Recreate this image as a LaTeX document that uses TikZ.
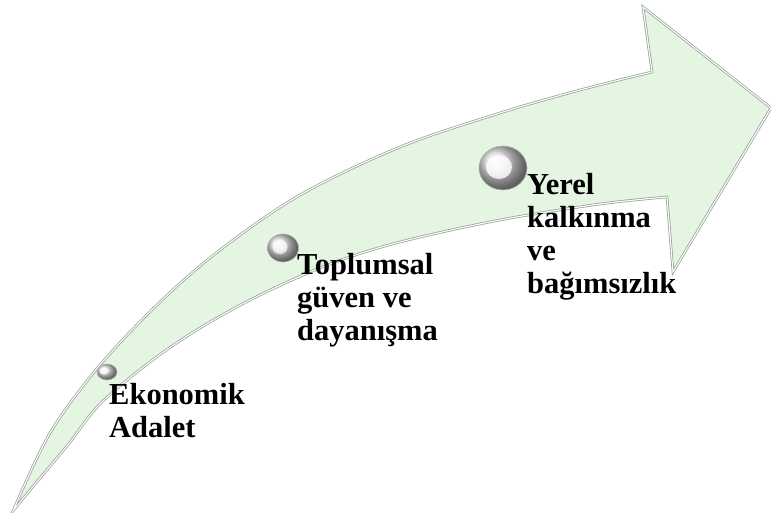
\documentclass[tikz,border=0pt]{standalone}
\usepackage{fontspec}
\setmainfont{Liberation Serif}
\usetikzlibrary{shapes.geometric}
\definecolor{mint}{RGB}{228,245,226}
\definecolor{rimgray}{RGB}{150,160,150}
\tikzset{
  label text/.style={anchor=north west, inner sep=0pt, align=left,
    font=\fontsize{30.5}{33}\selectfont\bfseries, text=black},
  sphere/.style={ellipse, inner sep=0pt, shading=ball, ball color=white!70!gray,
    draw=gray!60, line width=0.6pt},
  glint/.style={ellipse, fill=white, inner sep=0pt},
  arrowbody/.style={fill=mint,
    postaction={draw=rimgray, line width=2.6pt, line join=miter},
    postaction={draw=white, line width=1.1pt, line join=miter}}
}
\begin{document}
\begin{tikzpicture}[x=1pt, y=-1pt]
\useasboundingbox (0,0) rectangle (771,513);
% curved arrow
\path[arrowbody]
  plot[smooth, tension=0.55] coordinates {(13,511) (50,433) (100,365) (160,302) (220,250) (300,195) (400,147) (500,113) (580,90) (652,72)}
  -- (643,7) -- (771,108) -- (673,272) -- (667,197)
  -- plot[smooth, tension=0.55] coordinates {(667,197) (600,204) (500,220) (400,242) (330,264) (260,295) (200,328) (150,362) (100,404) (67,446) (35,484) (13,511)}
  -- cycle;
% spheres
\node[sphere, minimum width=20pt, minimum height=16pt] (s1) at (107,372) {};
\node[sphere, minimum width=31pt, minimum height=28pt] (s2) at (283,248) {};
\node[sphere, minimum width=48pt, minimum height=44pt] (s3) at (503,168) {};
\node[glint, opacity=0.7, minimum width=9pt, minimum height=7pt] (h1) at (104,371) {};
\node[glint, opacity=0.7, minimum width=15pt, minimum height=14pt] (h2) at (280,247) {};
\node[glint, opacity=0.8, minimum width=26pt, minimum height=24pt] (h3) at (499,167) {};
% labels
\node[label text] (t1) at (109,383) {Ekonomik\\Adalet};
\node[label text] (t2) at (297,253) {Toplumsal\\güven ve\\dayanışma};
\node[label text] (t3) at (527,173) {Yerel\\kalkınma\\ve\\bağımsızlık};
\end{tikzpicture}
\end{document}
